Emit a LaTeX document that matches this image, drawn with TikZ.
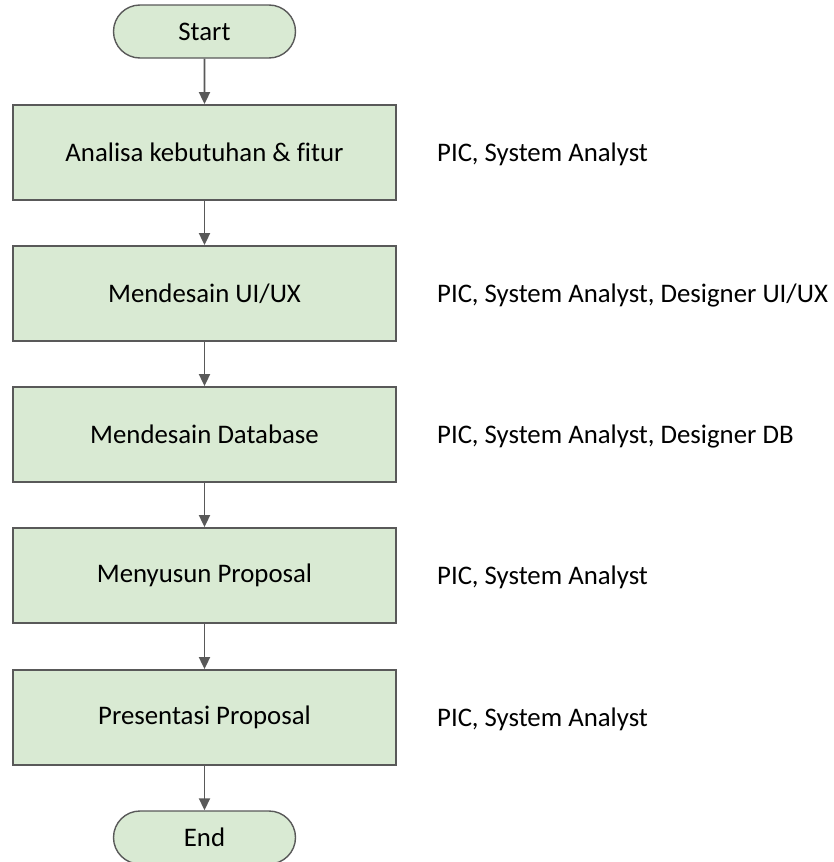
\documentclass[tikz,border=0pt]{standalone}
\usepackage{fontspec}
\setmainfont[Ligatures=CommonOff]{Carlito}
\usetikzlibrary{shapes.misc,arrows.meta}
\definecolor{boxfill}{HTML}{D9EAD3}
\definecolor{edge}{HTML}{595959}
\begin{document}
\begin{tikzpicture}[x=1pt,y=-1pt,
  font=\fontsize{26.8}{30}\selectfont,
  stepbox/.style={draw=edge,line width=1.8pt,fill=boxfill,minimum width=383pt,minimum height=95pt,inner sep=0pt},
  term/.style={draw=edge,line width=1.4pt,fill=boxfill,rounded rectangle,minimum width=182pt,minimum height=53pt,inner sep=0pt},
  role/.style={anchor=west,inner sep=0pt},
  flow/.style={draw=edge,line width=1.8pt,-{Triangle[length=12pt,width=11pt]}}]
\useasboundingbox (0,0) rectangle (834,862);
\node[term] (start) at (204.5,31.5) {Start};
\node[stepbox] (b1) at (204.5,152.5) {Analisa kebutuhan \& fitur};
\node[stepbox] (b2) at (204.5,293.5) {Mendesain UI/UX};
\node[stepbox] (b3) at (204.5,434.5) {Mendesain Database};
\node[stepbox] (b4) at (204.5,575.5) {Menyusun Proposal};
\node[stepbox] (b5) at (204.5,717.5) {Presentasi Proposal};
\node[term] (end) at (204.5,837.5) {End};
\node[role] (r1) at (437,154) {PIC, System Analyst};
\node[role] (r2) at (437,295) {PIC, System Analyst, Designer UI/UX};
\node[role] (r3) at (437,436) {PIC, System Analyst, Designer DB};
\node[role] (r4) at (437,577) {PIC, System Analyst};
\node[role] (r5) at (437,719) {PIC, System Analyst};
\draw[flow] (start) -- (b1);
\draw[flow] (b1) -- (b2);
\draw[flow] (b2) -- (b3);
\draw[flow] (b3) -- (b4);
\draw[flow] (b4) -- (b5);
\draw[flow] (b5) -- (end);
\end{tikzpicture}
\end{document}
